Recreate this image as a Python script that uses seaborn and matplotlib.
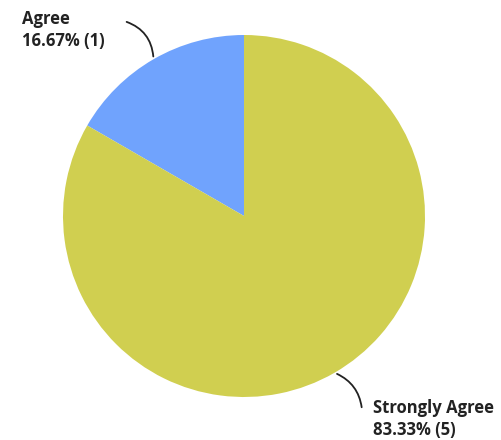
import matplotlib
matplotlib.use("Agg")
import numpy as np
import matplotlib.pyplot as plt
import seaborn as sns

# Survey responses
labels = ["Agree", "Strongly Agree"]
counts = [1, 5]
colors = ["#70a3fd", "#d0cf50"]

sns.set_theme(style="white")
plt.rcParams['font.family'] = ['Open Sans', 'DejaVu Sans']

W, H = 502, 440
fig = plt.figure(figsize=(W / 100, H / 100), dpi=100)
ax = fig.add_axes([0, 0, 1, 1])

cx, cy, r = 244, H - 216, 181
wedges, _ = ax.pie(counts, colors=colors, startangle=90, counterclock=True,
                   center=(cx, cy), radius=r, frame=True,
                   wedgeprops=dict(linewidth=0))
ax.set_xlim(0, W)
ax.set_ylim(0, H)
ax.set_aspect("equal")
ax.axis("off")

total = sum(counts)
# text top-left, connector end (pixels from top-left), curve bend
label_pos = {"Agree": (22, 10, 124, 21, -0.35),
             "Strongly Agree": (373, 399, 362, 410, 0.3)}
for w, lab, n in zip(wedges, labels, counts):
    ang = np.deg2rad((w.theta1 + w.theta2) / 2)
    ex, ey = cx + r * np.cos(ang), cy + r * np.sin(ang)
    tx, ty, lx, ly, rad = label_pos[lab]
    ax.annotate("", xy=(ex, ey), xytext=(lx, H - ly),
                arrowprops=dict(arrowstyle="-", color="#222222", lw=1.3,
                                connectionstyle=f"arc3,rad={rad}"))
    ax.text(tx, H - ty, f"{lab}\n{n / total * 100:.2f}% ({n})",
            ha="left", va="top", fontsize=12, fontweight="bold",
            color="#222222", linespacing=1.3)

fig.savefig("out.png", dpi=100)
